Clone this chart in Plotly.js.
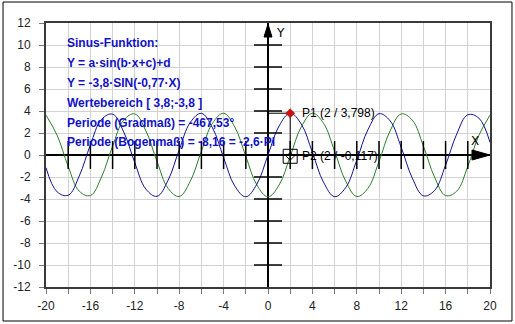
<!DOCTYPE html>
<html>
<head>
<meta charset="utf-8">
<script src="https://cdn.plot.ly/plotly-3.0.1.min.js"></script>
<style>
  html, body { margin: 0; padding: 0; background: #ffffff; }
  #chart { width: 515px; height: 324px; }
</style>
</head>
<body>
<div id="chart"></div>
<script>
// ---- data ----
const xValues = [-20,-19,-18,-17,-16,-15,-14,-13,-12,-11,-10,-9,-8,-7,-6,-5,-4,-3,-2,-1,0,
                 1,2,3,4,5,6,7,8,9,10,11,12,13,14,15,16,17,18,19,20];
// blue curve: Y = -3,8·SIN(-0,77·X)
const blueY = [-1.152,-3.348,-3.655,-1.900,0.927,3.231,3.712,2.099,-0.698,-3.102,-3.755,-2.290,0.467,2.961,3.785,2.472,-0.234,-2.808,-3.798,-2.645,0,
               2.645,3.798,2.808,0.234,-2.472,-3.785,-2.961,-0.467,2.290,3.755,3.102,0.698,-2.099,-3.712,-3.231,-0.927,1.900,3.655,3.348,1.152];
// green curve
const greenY = [3.621,1.797,-1.040,-3.291,-3.685,-2.000,0.813,3.168,3.735,2.195,-0.583,-3.032,-3.771,-2.382,0.351,2.886,3.793,2.560,-0.117,-2.728,-3.8,
                -2.728,-0.117,2.560,3.793,2.886,0.351,-2.382,-3.771,-3.032,-0.583,2.195,3.735,3.168,0.813,-2.000,-3.685,-3.291,-1.040,1.797,3.621];

const pointP1 = {name: 'P1', x: 2, y: 3.798, label: 'P1 (2 / 3,798)'};
const pointP2 = {name: 'P2', x: 2, y: -0.117, label: 'P2 (2 / -0,117)'};

const xRange = [-20, 20];
const yRange = [-12, 12];
const xTickVals = [-20,-18,-16,-14,-12,-10,-8,-6,-4,-2,0,2,4,6,8,10,12,14,16,18,20];
const xTickText = ['-20','','-16','','-12','','-8','','-4','','0','','4','','8','','12','','16','','20'];
const yTickVals = [-12,-10,-8,-6,-4,-2,0,2,4,6,8,10,12];
const yTickText = ['-12','-10','-8','-6','-4','-2','0','2','4','6','8','10','12'];
// cross ticks drawn on the coordinate axes
const xAxisCrossTicks = [-18,-16,-14,-12,-10,-8,-6,-4,-2,2,4,6,8,10,12,14,16,18];
const yAxisCrossTicks = [-10,-8,-6,-4,-2,2,4,6,8,10];

const infoLines = [
  'Sinus-Funktion:',
  'Y = a·sin(b·x+c)+d',
  'Y = -3,8·SIN(-0,77·X)',
  'Wertebereich [ 3,8;-3,8 ]',
  'Periode (Gradmaß) = -467,53°',
  'Periode (Bogenmaß) = -8,16 = -2,6·PI'
];

// ---- styles ----
const FONT = 'Liberation Sans, Arial, sans-serif';
const gridColor = '#d2d2d2';
const textBlue = '#1212c4';

const traces = [
  {x: xValues, y: greenY, type: 'scatter', mode: 'lines',
   line: {color: '#2a7d2a', width: 1, shape: 'spline', smoothing: 1.1}, hoverinfo: 'skip'},
  {x: xValues, y: blueY, type: 'scatter', mode: 'lines',
   line: {color: '#101090', width: 1, shape: 'spline', smoothing: 1.1}, hoverinfo: 'skip'},
  // axis cross ticks
  {x: xAxisCrossTicks, y: xAxisCrossTicks.map(() => 0), type: 'scatter', mode: 'markers',
   marker: {symbol: 'line-ns-open', size: 20, color: '#000', line: {color: '#000', width: 1.5}}, hoverinfo: 'skip'},
  {x: yAxisCrossTicks.map(() => 0), y: yAxisCrossTicks, type: 'scatter', mode: 'markers',
   marker: {symbol: 'line-ew-open', size: 20, color: '#000', line: {color: '#000', width: 1.5}}, hoverinfo: 'skip'},
  // projection lines of P1
  {x: [0, pointP1.x, pointP1.x], y: [pointP1.y, pointP1.y, 0], type: 'scatter', mode: 'lines',
   line: {color: '#000', width: 1}, hoverinfo: 'skip'},
  // P2 marker: square with small diamond
  {x: [pointP2.x], y: [pointP2.y], type: 'scatter', mode: 'markers',
   marker: {symbol: 'square-open', size: 14, color: '#000', line: {color: '#000', width: 1}}, hoverinfo: 'skip'},
  {x: [pointP2.x], y: [pointP2.y], type: 'scatter', mode: 'markers',
   marker: {symbol: 'diamond-open', size: 6, color: '#000', line: {color: '#000', width: 1}}, hoverinfo: 'skip'},
  // P1 marker
  {x: [pointP1.x], y: [pointP1.y], type: 'scatter', mode: 'markers',
   marker: {symbol: 'diamond', size: 7, color: '#d01010', line: {color: '#a00000', width: 0.5}}, hoverinfo: 'skip'}
];

const annotations = [];
const lineY0 = 0.924, lineStep = 0.0753;
infoLines.forEach((t, i) => {
  annotations.push({xref: 'paper', yref: 'paper', x: 0.042, y: lineY0 - i * lineStep,
    xanchor: 'left', yanchor: 'middle', showarrow: false, text: t,
    font: {family: FONT, size: 12, color: textBlue, weight: 'bold'}});
});
[pointP1, pointP2].forEach(p => {
  annotations.push({xref: 'x', yref: 'y', x: p.x, y: p.y, xanchor: 'left', yanchor: 'middle',
    xshift: 10, showarrow: false, text: p.label, font: {family: FONT, size: 12, color: '#000'}});
});
annotations.push({xref: 'x', yref: 'y', x: xRange[1], y: 0, xanchor: 'center', yanchor: 'middle',
  xshift: -15, yshift: 14, showarrow: false, text: 'X', font: {family: 'DejaVu Sans', size: 12, color: '#000'}});
annotations.push({xref: 'x', yref: 'y', x: 0, y: yRange[1], xanchor: 'center', yanchor: 'middle',
  xshift: 12, yshift: -10, showarrow: false, text: 'Y', font: {family: 'DejaVu Sans', size: 12, color: '#000'}});

const shapes = [
  // arrow heads at the ends of the coordinate axes
  {type: 'path', xref: 'x', yref: 'y', xsizemode: 'pixel', ysizemode: 'pixel',
   xanchor: xRange[1], yanchor: 0, path: 'M0,0 L-18,5 L-18,-5 Z',
   fillcolor: '#000', line: {color: '#000', width: 1}},
  {type: 'path', xref: 'x', yref: 'y', xsizemode: 'pixel', ysizemode: 'pixel',
   xanchor: 0, yanchor: yRange[1], path: 'M0,-1 L-4,-14 L4,-14 Z',
   fillcolor: '#000', line: {color: '#000', width: 1}},
  // outer frame
  {type: 'rect', xref: 'paper', yref: 'paper', x0: -0.0968, x1: 1.0495, y0: -0.1288, y1: 1.0795,
   line: {color: '#000', width: 1}, fillcolor: 'rgba(0,0,0,0)', layer: 'below'}
];

const axisCommon = {
  ticks: 'outside', ticklen: 5, tickcolor: '#777', tickwidth: 1,
  showgrid: true, gridcolor: gridColor, gridwidth: 1,
  zeroline: true, zerolinecolor: '#000', zerolinewidth: 1.6,
  showline: true, mirror: true, linecolor: '#3a3a3a', linewidth: 2,
  tickfont: {family: FONT, size: 12, color: '#222'},
  tickmode: 'array', fixedrange: true
};

const layout = {
  width: 515, height: 324,
  margin: {l: 46, r: 25, t: 23, b: 37, pad: 0},
  paper_bgcolor: '#fff', plot_bgcolor: '#fff',
  showlegend: false,
  xaxis: Object.assign({}, axisCommon, {range: xRange, tickvals: xTickVals, ticktext: xTickText, ticklabelstandoff: 2}),
  yaxis: Object.assign({}, axisCommon, {range: yRange, tickvals: yTickVals, ticktext: yTickText, ticklabelstandoff: 6}),
  annotations: annotations,
  shapes: shapes
};

Plotly.newPlot('chart', traces, layout, {staticPlot: true, displayModeBar: false});
</script>
</body>
</html>
